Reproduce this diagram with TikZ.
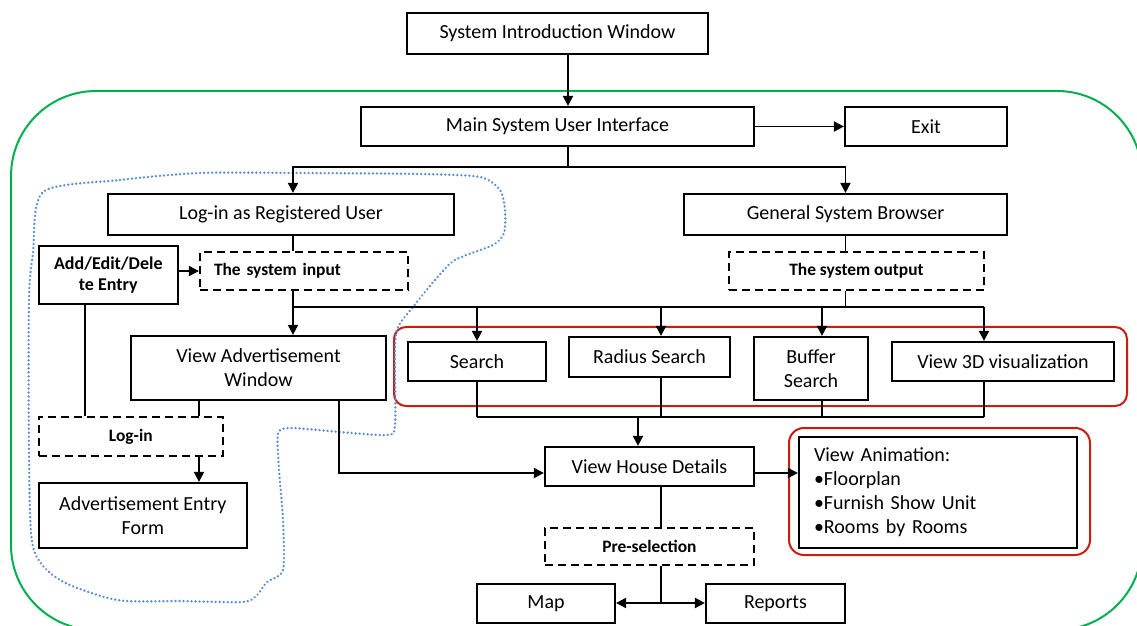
\documentclass[tikz,border=0pt]{standalone}
\usepackage{fontspec}
\setmainfont{Carlito}
\usetikzlibrary{arrows.meta}

\definecolor{framegreen}{RGB}{0,176,80}
\definecolor{framered}{RGB}{200,30,15}
\definecolor{dotblue}{RGB}{85,142,213}

\begin{document}
\begin{tikzpicture}[x=0.5pt,y=-0.5pt,
        box/.style={rectangle,draw,line width=1.1pt,inner sep=0pt,align=center,
            font=\fontsize{10}{12}\selectfont},
        dbox/.style={box,dash pattern=on 4pt off 2.5pt,
            font=\fontsize{8.7}{10.5}\selectfont\bfseries},
        arr/.style={-{Triangle[length=5pt,width=5pt]},line width=0.95pt},
        con/.style={line width=0.95pt}]
        \useasboundingbox (0,0) rectangle (1137,626);

        % outer green frame
        \begin{scope}
            \clip (0,0) rectangle (1137,626);
            \draw[framegreen,line width=1pt,rounded corners=42.5pt] (11,91) rectangle (1142,630);
        \end{scope}

        % red frames
        \draw[framered,line width=1pt,rounded corners=6pt] (394,327) rectangle (1127,406);
        \draw[framered,line width=1pt,rounded corners=7.5pt] (789,428) rectangle (1090,555);

        % blue dotted outline of the registered user part
        \draw[dotblue,line width=1.3pt,line cap=round,dash pattern=on 0.01pt off 2pt]
            plot[smooth cycle,tension=0.45] coordinates {
            (43,192) (120,180) (200,173) (300,173) (420,174) (480,177) (500,190)
            (505,210) (504,233) (493,245) (455,260) (435,280) (413,307) (398,327)
            (395,350) (395,425) (387,435) (340,432) (290,428) (278,434) (279,470)
            (283,520) (283,570) (267,582) (257,595) (243,602) (180,601) (117,600)
            (60,580) (33,547) (29,450) (29,300) (33,253)};

        % top part
        \node[box,minimum width=150.5pt,minimum height=20.5pt] (intro) at (557.5,33.5) {System Introduction Window};
        \node[box,minimum width=196.5pt,minimum height=19.5pt] (main) at (557.5,126.5) {Main System User Interface};
        \node[box,minimum width=81pt,minimum height=19.5pt] (exit) at (926,126.5) {Exit};
        \node[box,minimum width=173pt,minimum height=20.5pt] (login) at (281,214.5) {Log-in as Registered User};
        \node[box,minimum width=161.5pt,minimum height=20.5pt] (gsb) at (845.5,214.5) {General System Browser};

        % input side
        \node[box,minimum width=69.7pt,minimum height=29pt,font=\fontsize{9}{10.5}\selectfont\bfseries] (addedit) at (108.3,275) {Add/Edit/Dele\\te Entry};
        \node[dbox,text width=90pt,inner xsep=7pt,align=left,minimum height=19pt] (sysin) at (304,271) {The system input};
        \node[box,minimum width=127.5pt,minimum height=32pt] (viewad) at (258.5,368) {View Advertisement\\Window};
        \node[dbox,minimum width=92.2pt,minimum height=19.5pt] (logind) at (130.8,436.5) {Log-in};
        \node[box,minimum width=104.2pt,minimum height=32.5pt] (adform) at (142.8,515.5) {Advertisement Entry\\Form};

        % output side
        \node[dbox,minimum width=127.5pt,minimum height=19pt] (sysout) at (856.5,271) {The system output};
        \node[box,minimum width=69pt,minimum height=19.5pt] (search) at (477,361.5) {Search};
        \node[box,minimum width=80.5pt,minimum height=20pt] (radius) at (649.5,357) {Radius Search};
        \node[box,minimum width=57pt,minimum height=31.5pt] (buffer) at (811,368.5) {Buffer\\Search};
        \node[box,minimum width=111pt,minimum height=19.5pt] (view3d) at (1003,361.5) {View 3D visualization};
        \node[box,minimum width=104.5pt,minimum height=19.5pt] (vhd) at (649.5,466.5) {View House Details};
        \node[box,text width=124pt,inner xsep=7.5pt,align=left,minimum height=55.5pt] (anim) at (938,492.5)
            {View Animation:\\\textbullet{}Floorplan\\\textbullet{}Furnish Show Unit\\\textbullet{}Rooms by Rooms};
        \node[dbox,minimum width=104.5pt,minimum height=18.5pt] (presel) at (649.5,546.5) {Pre-selection};
        \node[box,minimum width=69pt,minimum height=19.5pt] (map) at (546,603.5) {Map};
        \node[box,minimum width=69.5pt,minimum height=19.5pt] (reports) at (775.5,603.5) {Reports};

        % junction points
        \coordinate (splittop) at (568,167);
        \coordinate (intrunk) at (293,307);
        \coordinate (outtrunk) at (845.5,307);
        \coordinate (ta) at (477,307);
        \coordinate (tb) at (661,307);
        \coordinate (tc) at (822,307);
        \coordinate (td) at (984,307);
        \coordinate (collect) at (638,417);
        \coordinate (adlink) at (339,473);
        \coordinate (presplit) at (661,603);
        \coordinate (editdrop) at (85,417);
        \coordinate (addrop) at (199,417);

        % connectors at the top
        \draw[arr] (intro.south -| splittop) -- (main.north -| splittop);
        \draw[arr] (main.east) -- (exit.west);
        \draw[arr] (main.south -| splittop) -- (splittop) -| (login.north -| intrunk);
        \draw[arr] (splittop) -| (gsb.north);

        % input connectors
        \draw[con] (login.south -| intrunk) -- (sysin.north -| intrunk);
        \draw[arr] (addedit.east |- sysin) -- (sysin.west);
        \draw[arr] (sysin.south -| intrunk) -- (viewad.north -| intrunk);
        \draw[con] (addedit.south -| editdrop) -- (logind.north -| editdrop);
        \draw[con] (viewad.south -| addrop) -- (logind.north -| addrop);
        \draw[arr] (logind.south -| addrop) -- (adform.north -| addrop);
        \draw[arr] (viewad.south -| adlink) |- (vhd.west |- adlink);

        % output connectors
        \draw[con] (gsb.south) -- (sysout.north -| gsb.south);
        \draw[con] (sysout.south -| outtrunk) -- (outtrunk);
        \draw[con] (intrunk) -- (td);
        \draw[arr] (ta) -- (search.north -| ta);
        \draw[arr] (tb) -- (radius.north -| tb);
        \draw[arr] (tc) -- (buffer.north -| tc);
        \draw[arr] (td) -- (view3d.north -| td);
        \draw[con] (search.south -| ta) -- (ta |- collect);
        \draw[con] (radius.south -| tb) -- (tb |- collect);
        \draw[con] (buffer.south -| tc) -- (tc |- collect);
        \draw[con] (view3d.south -| td) -- (td |- collect);
        \draw[con] (ta |- collect) -- (td |- collect);
        \draw[arr] (collect) -- (vhd.north -| collect);
        \draw[arr] (vhd.east |- adlink) -- (anim.west |- adlink);
        \draw[con] (vhd.south -| presplit) -- (presel.north -| presplit);
        \draw[con] (presel.south -| presplit) -- (presplit);
        \draw[arr] (presplit) -- (map.east |- presplit);
        \draw[arr] (presplit) -- (reports.west |- presplit);
\end{tikzpicture}
\end{document}
